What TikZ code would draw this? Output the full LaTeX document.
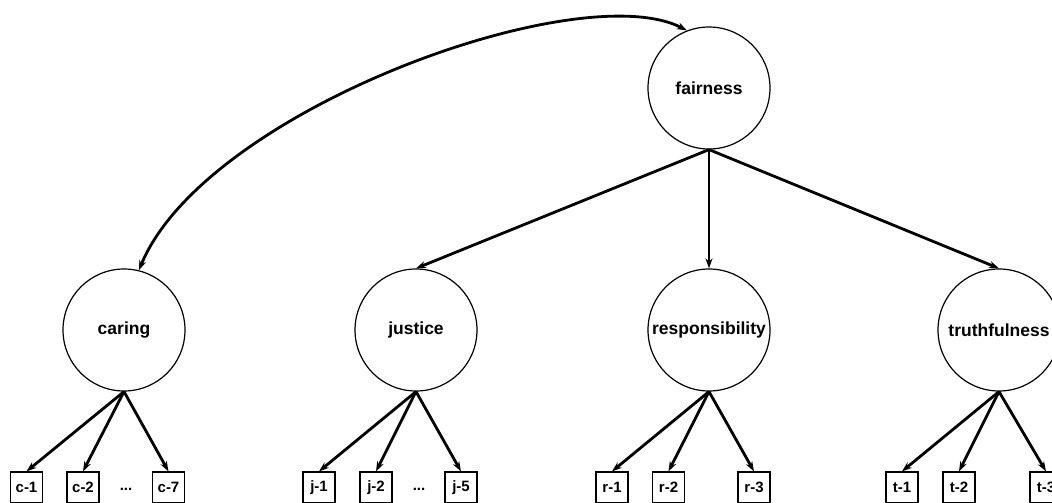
\documentclass[tikz,border=0pt]{standalone}
\usepackage{fontspec}
\setmainfont{Liberation Sans}
\usepackage{tikz}
\usetikzlibrary{arrows.meta, positioning}
\tikzset{
  factor/.style={circle, draw=black, line width=1.2pt, inner sep=0pt,
    minimum size=122pt, font=\fontsize{17.5}{19}\selectfont\bfseries},
  item/.style={rectangle, draw=black, line width=1.2pt, inner sep=0pt,
    minimum width=32pt, minimum height=31pt,
    font=\fontsize{15}{17}\selectfont\bfseries},
  gap/.style={inner sep=0pt, font=\fontsize{15}{17}\selectfont\bfseries},
  arrow/.style={-{Stealth[length=10pt, width=7pt]}, line width=2.8pt},
  bothway/.style={{Stealth[length=10pt, width=7pt]}-{Stealth[length=10pt, width=7pt]}, line width=2.8pt}
}
\begin{document}
\begin{tikzpicture}[x=1pt, y=-1pt]
  \useasboundingbox (0,0) rectangle (1052,503);
  % General factor
  \node[factor] (fair) at (709,88) {fairness};
  % Specific factors
  \node[factor] (caring) at (124,330) {caring};
  \node[factor] (justice) at (416,330) {justice};
  \node[factor] (resp) at (709,330) {responsibility};
  \node[factor] (truth) at (999,330) {truthfulness};
  % Items
  \node[item] (c1) at (26.5,487.5) {c-1};
  \node[item] (c2) at (83,487.5) {c-2};
  \node[gap] (cdots) at (126,489) {...};
  \node[item] (c7) at (168.5,487.5) {c-7};
  \node[item] (j1) at (319,487.5) {j-1};
  \node[item] (j2) at (376,487.5) {j-2};
  \node[gap] (jdots) at (419,489) {...};
  \node[item] (j5) at (461,487.5) {j-5};
  \node[item] (r1) at (612,487.5) {r-1};
  \node[item] (r2) at (668.5,487.5) {r-2};
  \node[item] (r3) at (754,487.5) {r-3};
  \node[item] (t1) at (902,487.5) {t-1};
  \node[item] (t2) at (959,487.5) {t-2};
  \node[item] (t3) at (1046,487.5) {t-3};

  \draw[arrow] (fair.south) -- (justice.north);
  \draw[arrow] (fair.south) -- (resp.north);
  \draw[arrow] (fair.south) -- (truth.north);
  \draw[bothway] (caring.76) .. controls (205,110) and (580,-25) .. (fair.111);

  \draw[arrow] (caring.south) -- (c1.north);
  \draw[arrow] (caring.south) -- (c2.north);
  \draw[arrow] (caring.south) -- (c7.north);
  \draw[arrow] (justice.south) -- (j1.north);
  \draw[arrow] (justice.south) -- (j2.north);
  \draw[arrow] (justice.south) -- (j5.north);
  \draw[arrow] (resp.south) -- (r1.north);
  \draw[arrow] (resp.south) -- (r2.north);
  \draw[arrow] (resp.south) -- (r3.north);
  \draw[arrow] (truth.south) -- (t1.north);
  \draw[arrow] (truth.south) -- (t2.north);
  \draw[arrow] (truth.south) -- (t3.north);
\end{tikzpicture}
\end{document}
